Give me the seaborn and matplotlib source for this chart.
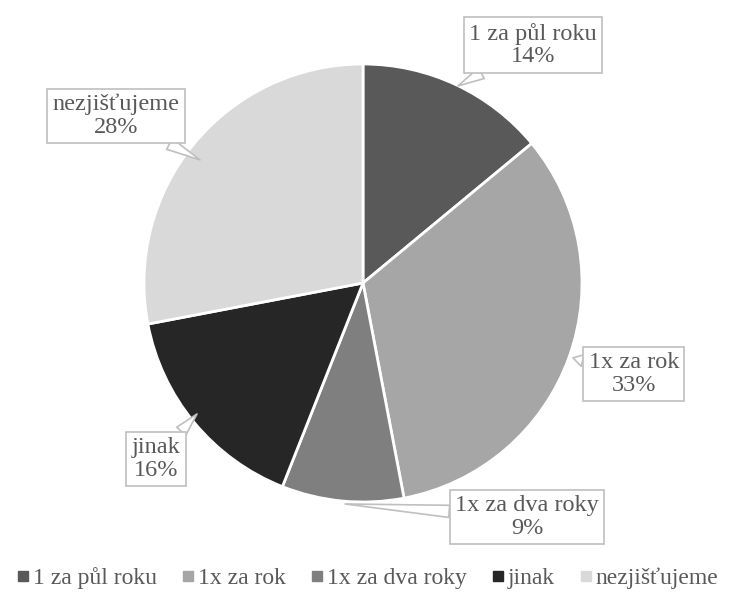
import matplotlib
matplotlib.use("Agg")
import matplotlib.pyplot as plt
import seaborn as sns
from matplotlib.lines import Line2D

categories = ["1 za půl roku", "1x za rok", "1x za dva roky", "jinak", "nezjišťujeme"]
values = [14, 33, 9, 16, 28]
colors = ["#595959", "#a6a6a6", "#7f7f7f", "#262626", "#d9d9d9"]

sns.set_theme(style="white")
plt.rcParams["font.family"] = ["Liberation Serif", "DejaVu Serif"]

fig = plt.figure(figsize=(7.29, 5.93), dpi=100)
cx, cy, r = 363 / 729, (593 - 283) / 593, 219
w, h = r / 729, r / 593
ax = fig.add_axes([cx - w, cy - h, 2 * w, 2 * h])

wedges, _ = ax.pie(values, colors=colors, startangle=90, counterclock=False,
                   wedgeprops=dict(edgecolor="white", linewidth=2))
ax.set_xlim(-1, 1)
ax.set_ylim(-1, 1)
ax.set_aspect("auto")
ax.axis("off")

label_pos = [(0.776, 1.087), (1.237, -0.416), (0.749, -1.068), (-0.945, -0.804), (-1.128, 0.763)]
tips = [(0.434, 0.90), (0.959, -0.342), (-0.082, -1.009), (-0.758, -0.598), (-0.744, 0.562)]

for cat, v, pos, tip in zip(categories, values, label_pos, tips):
    ax.annotate(f"{cat}\n{v}%", xy=tip, xytext=pos, ha="center", va="center",
                fontsize=17.5, color="#595959", linespacing=1.1, annotation_clip=False,
                bbox=dict(boxstyle="square,pad=0.22", fc="white", ec="#bfbfbf", lw=1.2),
                arrowprops=dict(arrowstyle="wedge,tail_width=0.5", fc="white", ec="#bfbfbf",
                                lw=1.2, shrinkA=0, shrinkB=0))

handles = [Line2D([0], [0], marker="s", linestyle="", markersize=7,
                  markerfacecolor=c, markeredgecolor=c) for c in colors]
fig.legend(handles, categories, loc="center", bbox_to_anchor=(0.505, 1 - 578 / 593),
           ncol=5, frameon=False, fontsize=17, handlelength=0.45, handletextpad=0.2,
           columnspacing=1.08, labelcolor="#595959", borderaxespad=0, borderpad=0)

fig.savefig("out.png", dpi=100, facecolor="white")
